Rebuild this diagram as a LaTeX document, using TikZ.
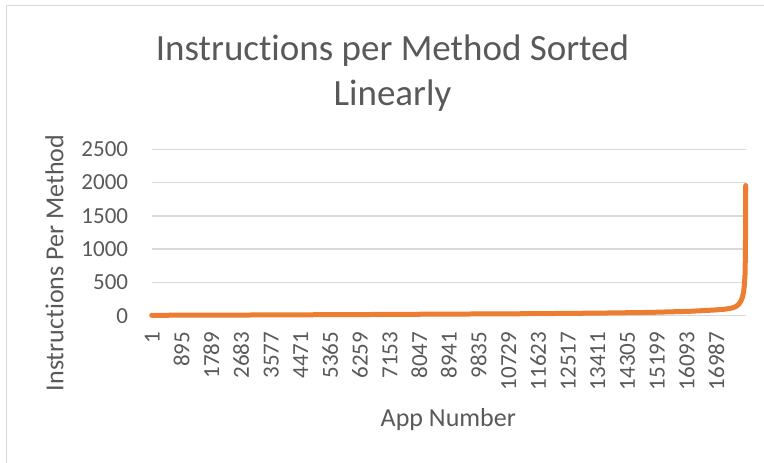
\documentclass[tikz,border=0pt]{standalone}
\usepackage{fontspec}
\setmainfont{Carlito}[RawFeature={-liga;-clig;-calt;-dlig}]
\definecolor{chartgray}{HTML}{595959}
\definecolor{gridgray}{HTML}{D9D9D9}
\definecolor{seriesorange}{HTML}{ED7D31}
\begin{document}
\begin{tikzpicture}[x=1pt,y=-1pt,
  gridline/.style={draw=gridgray,line width=1.3pt},
  frameline/.style={draw=gridgray,line width=1.2pt},
  series/.style={draw=seriesorange,line width=5pt,line cap=round,line join=round},
  ytick/.style={anchor=base east,inner sep=0pt,text=chartgray,font=\fontsize{23}{28}\selectfont},
  xtick/.style={anchor=base east,rotate=90,inner sep=0pt,text=chartgray,font=\fontsize{23}{28}\selectfont},
  axtitle/.style={anchor=base,inner sep=0pt,text=chartgray,font=\fontsize{26}{31}\selectfont},
  charttitle/.style={anchor=base,inner sep=0pt,text=chartgray,font=\fontsize{37}{45}\selectfont}]
  \useasboundingbox (0,0) rectangle (764,463);

  % chart frame (only top and left edges fall inside the page)
  \draw[frameline] (6.5,463) -- (6.5,5.5) -- (764,5.5);

  % title
  \node[charttitle] (title1) at (392.5,60.7) {Instructions per Method Sorted};
  \node[charttitle] (title2) at (392.5,105.7) {Linearly};

  % horizontal gridlines and value labels
  \foreach \v [count=\k from 0] in {0,500,1000,1500,2000,2500} {
    \draw[gridline] (151.7,{315.7-\k*33.28}) -- (745.7,{315.7-\k*33.28});
    \node[ytick] (yl\k) at (128.3,{315.7-\k*33.28+7.3}) {\v};
  }

  % category labels
  \foreach \lab [count=\k from 0] in {1,895,1789,2683,3577,4471,5365,6259,7153,8047,
      8941,9835,10729,11623,12517,13411,14305,15199,16093,16987} {
    \node[xtick] (xl\k) at ({152.4+\k*29.7+7.3},331.7) {\lab};
  }

  % axis titles
  \node[axtitle] (xtitle) at (448.3,426.7) {App Number};
  \node[axtitle,rotate=90] (ytitle) at (63.3,263) {Instructions Per Method};

  % data series
  \draw[series] (151.7,315.3) -- (250,315.0) -- (350,314.6) -- (430,314.2)
    -- (530,313.7) -- (600,313.1) -- (650,312.4) -- (690,311.3) -- (713,310.1)
    -- (725,309.2) -- (732,308.0) -- (736,306.5) -- (739,304.0) -- (741,300.8)
    -- (742.5,297.0) -- (743.6,292.0) -- (744.4,285.0) -- (745.0,275)
    -- (745.3,260) -- (745.5,240) -- (745.7,185.5);
\end{tikzpicture}
\end{document}
